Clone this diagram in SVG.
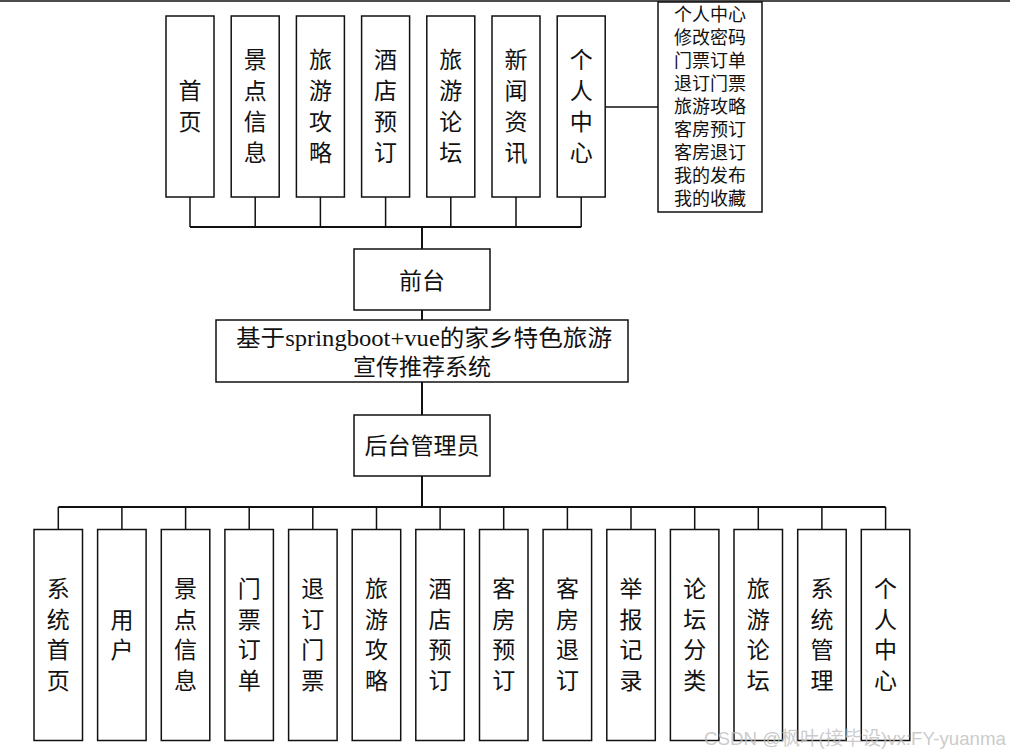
<svg xmlns="http://www.w3.org/2000/svg" width="1010" height="756" viewBox="0 0 1010 756">
<style>
.box{fill:#fff;stroke:#111;stroke-width:1.5}
.ln{fill:none;stroke:#111;stroke-width:1.5}
.bus{fill:none;stroke:#111;stroke-width:2}
.t{font-family:"Liberation Serif","Noto Sans CJK SC",serif;fill:#111;text-anchor:middle;dominant-baseline:central}
.v{font-size:23px}
.s{font-size:18px}
.wm{font-family:"Liberation Sans","Noto Sans CJK SC",sans-serif;font-size:19px;fill:#bdbdbd;fill-opacity:0.8}
</style>
<line x1="0" y1="1" x2="1010" y2="1" class="ln"/>
<g id="connectors">
<path class="ln" d="M190,197V227M255.2,197V227M320.4,197V227M385.6,197V227M450.8,197V227M516,197V227M581.2,197V227"/>
<path class="bus" d="M190,227H581.2"/>
<path class="ln" d="M605.2,107H658"/>
<path class="bus" d="M422,227V249M422,310V320M422,382V415M422,476V507"/>
<path class="bus" d="M58.3,507H885.6"/>
<path class="ln" d="M58.3,507V529.5M121.9,507V529.5M185.6,507V529.5M249.2,507V529.5M312.8,507V529.5M376.5,507V529.5M440.1,507V529.5M503.7,507V529.5M567.4,507V529.5M631,507V529.5M694.7,507V529.5M758.3,507V529.5M821.9,507V529.5M885.6,507V529.5"/>
</g>
<g id="top-1"><rect class="box" x="166" y="16" width="48" height="181"/><text class="t v"><tspan x="190" y="91">首</tspan><tspan x="190" y="122">页</tspan></text></g>
<g id="top-2"><rect class="box" x="231.2" y="16" width="48" height="181"/><text class="t v"><tspan x="255.2" y="60">景</tspan><tspan x="255.2" y="91">点</tspan><tspan x="255.2" y="122">信</tspan><tspan x="255.2" y="153">息</tspan></text></g>
<g id="top-3"><rect class="box" x="296.4" y="16" width="48" height="181"/><text class="t v"><tspan x="320.4" y="60">旅</tspan><tspan x="320.4" y="91">游</tspan><tspan x="320.4" y="122">攻</tspan><tspan x="320.4" y="153">略</tspan></text></g>
<g id="top-4"><rect class="box" x="361.6" y="16" width="48" height="181"/><text class="t v"><tspan x="385.6" y="60">酒</tspan><tspan x="385.6" y="91">店</tspan><tspan x="385.6" y="122">预</tspan><tspan x="385.6" y="153">订</tspan></text></g>
<g id="top-5"><rect class="box" x="426.8" y="16" width="48" height="181"/><text class="t v"><tspan x="450.8" y="60">旅</tspan><tspan x="450.8" y="91">游</tspan><tspan x="450.8" y="122">论</tspan><tspan x="450.8" y="153">坛</tspan></text></g>
<g id="top-6"><rect class="box" x="492" y="16" width="48" height="181"/><text class="t v"><tspan x="516" y="60">新</tspan><tspan x="516" y="91">闻</tspan><tspan x="516" y="122">资</tspan><tspan x="516" y="153">讯</tspan></text></g>
<g id="top-7"><rect class="box" x="557.2" y="16" width="48" height="181"/><text class="t v"><tspan x="581.2" y="60">个</tspan><tspan x="581.2" y="91">人</tspan><tspan x="581.2" y="122">中</tspan><tspan x="581.2" y="153">心</tspan></text></g>
<g id="user-center-list"><rect class="box" x="658" y="2" width="104" height="210"/><text class="t s"><tspan x="710" y="15">个人中心</tspan><tspan x="710" y="38">修改密码</tspan><tspan x="710" y="61">门票订单</tspan><tspan x="710" y="84">退订门票</tspan><tspan x="710" y="107">旅游攻略</tspan><tspan x="710" y="130">客房预订</tspan><tspan x="710" y="153">客房退订</tspan><tspan x="710" y="176">我的发布</tspan><tspan x="710" y="199">我的收藏</tspan></text></g>
<g id="frontend"><rect class="box" x="354" y="249" width="136" height="61"/><text class="t v" x="422" y="281">前台</text></g>
<g id="system"><rect class="box" x="216" y="320" width="412" height="62"/><text class="t v" x="424" y="338" textLength="376" lengthAdjust="spacingAndGlyphs">基于springboot+vue的家乡特色旅游</text><text class="t v" x="422" y="367">宣传推荐系统</text></g>
<g id="admin"><rect class="box" x="354" y="415" width="136" height="61"/><text class="t v" x="422" y="446">后台管理员</text></g>
<g id="b-1"><rect class="box" x="34" y="529.5" width="48.5" height="211"/><text class="t v"><tspan x="58.3" y="589">系</tspan><tspan x="58.3" y="619.5">统</tspan><tspan x="58.3" y="650">首</tspan><tspan x="58.3" y="680.5">页</tspan></text></g>
<g id="b-2"><rect class="box" x="97.6" y="529.5" width="48.5" height="211"/><text class="t v"><tspan x="121.9" y="619.5">用</tspan><tspan x="121.9" y="650">户</tspan></text></g>
<g id="b-3"><rect class="box" x="161.3" y="529.5" width="48.5" height="211"/><text class="t v"><tspan x="185.6" y="589">景</tspan><tspan x="185.6" y="619.5">点</tspan><tspan x="185.6" y="650">信</tspan><tspan x="185.6" y="680.5">息</tspan></text></g>
<g id="b-4"><rect class="box" x="224.9" y="529.5" width="48.5" height="211"/><text class="t v"><tspan x="249.2" y="589">门</tspan><tspan x="249.2" y="619.5">票</tspan><tspan x="249.2" y="650">订</tspan><tspan x="249.2" y="680.5">单</tspan></text></g>
<g id="b-5"><rect class="box" x="288.6" y="529.5" width="48.5" height="211"/><text class="t v"><tspan x="312.8" y="589">退</tspan><tspan x="312.8" y="619.5">订</tspan><tspan x="312.8" y="650">门</tspan><tspan x="312.8" y="680.5">票</tspan></text></g>
<g id="b-6"><rect class="box" x="352.2" y="529.5" width="48.5" height="211"/><text class="t v"><tspan x="376.5" y="589">旅</tspan><tspan x="376.5" y="619.5">游</tspan><tspan x="376.5" y="650">攻</tspan><tspan x="376.5" y="680.5">略</tspan></text></g>
<g id="b-7"><rect class="box" x="415.8" y="529.5" width="48.5" height="211"/><text class="t v"><tspan x="440.1" y="589">酒</tspan><tspan x="440.1" y="619.5">店</tspan><tspan x="440.1" y="650">预</tspan><tspan x="440.1" y="680.5">订</tspan></text></g>
<g id="b-8"><rect class="box" x="479.5" y="529.5" width="48.5" height="211"/><text class="t v"><tspan x="503.7" y="589">客</tspan><tspan x="503.7" y="619.5">房</tspan><tspan x="503.7" y="650">预</tspan><tspan x="503.7" y="680.5">订</tspan></text></g>
<g id="b-9"><rect class="box" x="543.1" y="529.5" width="48.5" height="211"/><text class="t v"><tspan x="567.4" y="589">客</tspan><tspan x="567.4" y="619.5">房</tspan><tspan x="567.4" y="650">退</tspan><tspan x="567.4" y="680.5">订</tspan></text></g>
<g id="b-10"><rect class="box" x="606.8" y="529.5" width="48.5" height="211"/><text class="t v"><tspan x="631" y="589">举</tspan><tspan x="631" y="619.5">报</tspan><tspan x="631" y="650">记</tspan><tspan x="631" y="680.5">录</tspan></text></g>
<g id="b-11"><rect class="box" x="670.4" y="529.5" width="48.5" height="211"/><text class="t v"><tspan x="694.7" y="589">论</tspan><tspan x="694.7" y="619.5">坛</tspan><tspan x="694.7" y="650">分</tspan><tspan x="694.7" y="680.5">类</tspan></text></g>
<g id="b-12"><rect class="box" x="734" y="529.5" width="48.5" height="211"/><text class="t v"><tspan x="758.3" y="589">旅</tspan><tspan x="758.3" y="619.5">游</tspan><tspan x="758.3" y="650">论</tspan><tspan x="758.3" y="680.5">坛</tspan></text></g>
<g id="b-13"><rect class="box" x="797.7" y="529.5" width="48.5" height="211"/><text class="t v"><tspan x="821.9" y="589">系</tspan><tspan x="821.9" y="619.5">统</tspan><tspan x="821.9" y="650">管</tspan><tspan x="821.9" y="680.5">理</tspan></text></g>
<g id="b-14"><rect class="box" x="861.3" y="529.5" width="48.5" height="211"/><text class="t v"><tspan x="885.6" y="589">个</tspan><tspan x="885.6" y="619.5">人</tspan><tspan x="885.6" y="650">中</tspan><tspan x="885.6" y="680.5">心</tspan></text></g>
<text class="wm" x="704" y="745" textLength="302" lengthAdjust="spacingAndGlyphs">CSDN @枫叶(接毕设)vx:FY-yuanma</text>
</svg>
